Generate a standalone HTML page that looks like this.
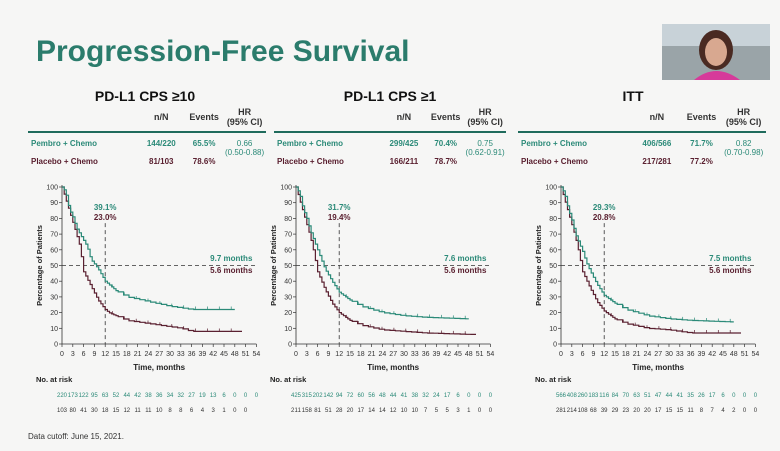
<!DOCTYPE html>
<html><head><meta charset="utf-8"><style>
body{margin:0;width:780px;height:451px;overflow:hidden;background:#f6f6f5;font-family:"Liberation Sans",sans-serif}
svg{position:absolute;left:0;top:0}
</style></head><body>
<svg id="s" width="780" height="451" xmlns="http://www.w3.org/2000/svg" font-family="Liberation Sans, sans-serif">
<rect width="780" height="451" fill="#f6f6f5"/>
<text x="36" y="61" font-size="30" font-weight="bold" fill="#2b7c6c">Progression-Free Survival</text>
<rect x="662" y="24" width="108" height="56" fill="#9aa4a8"/>
<rect x="662" y="24" width="108" height="22" fill="#c8d2d8"/>
<ellipse cx="716" cy="50" rx="17" ry="20" fill="#4a2a22"/>
<ellipse cx="716" cy="52" rx="11" ry="14" fill="#d8a890"/>
<path d="M694 80 Q716 62 740 80 Z" fill="#d63a9a"/>
</svg>
<script>
const s=document.getElementById('s');let h='';
const T='#2b8a78',P='#5a2030';
const panels=[
{x0:62,tx:28,tw:238,head:'PD-L1 CPS ≥10',hx:145,r1:['144/220','65.5%'],r2:['81/103','78.6%'],hr:['0.66','(0.50-0.88)'],
 a:['39.1%','23.0%'],m:['9.7 months','5.6 months'],
 p:[[0,100],[1,97],[2,86],[3,81],[4,74],[6,66],[7,62],[8,54],[10,48],[12,40],[15,34],[18,30],[24,27],[30,24],[33,23],[36,22],[48,22]],
 q:[[0,100],[2,85],[4,70],[5,62],[6,46],[8,37],[10,28],[12,22],[13,20],[17,16],[18,15],[27,12],[33,10],[36,8],[50,8]],
 n1:'220 173 122 95 63 52 44 42 38 36 34 32 27 19 13 6 0 0 0',n2:'103 80 41 30 18 15 12 11 11 10 8 8 6 4 3 1 0 0'},
{x0:296,tx:274,tw:232,head:'PD-L1 CPS ≥1',hx:390,r1:['299/425','70.4%'],r2:['166/211','78.7%'],hr:['0.75','(0.62-0.91)'],
 a:['31.7%','19.4%'],m:['7.6 months','5.6 months'],
 p:[[0,100],[1,96],[2,86],[3,80],[4,72],[6,60],[7,54],[8,48],[10,40],[12,33],[15,28],[18,24],[24,20],[30,18],[36,17],[48,16]],
 q:[[0,100],[2,84],[4,68],[5,58],[6,46],[8,35],[10,26],[12,20],[15,15],[18,12],[24,9],[30,8],[36,7],[50,6]],
 n1:'425 315 202 142 94 72 60 56 48 44 41 38 32 24 17 6 0 0 0',n2:'211 158 81 51 28 20 17 14 14 12 10 10 7 5 5 3 1 0 0'},
{x0:561,tx:518,tw:248,head:'ITT',hx:633,r1:['406/566','71.7%'],r2:['217/281','77.2%'],hr:['0.82','(0.70-0.98)'],
 a:['29.3%','20.8%'],m:['7.5 months','5.6 months'],
 p:[[0,100],[1,96],[2,86],[3,79],[4,70],[6,59],[7,52],[8,47],[10,38],[12,31],[15,26],[18,22],[24,18],[30,16],[36,15],[48,14]],
 q:[[0,100],[2,84],[4,68],[5,58],[6,46],[8,36],[10,27],[12,21],[15,16],[18,13],[24,10],[30,9],[36,7],[50,7]],
 n1:'566 408 260 183 116 84 70 63 51 47 44 41 35 26 17 6 0 0 0',n2:'281 214 108 68 39 29 23 20 20 17 15 15 11 8 7 4 2 0 0'}];
const Y0=344,Y1=187;
function interp(pts,m){for(let i=1;i<pts.length;i++){if(m<=pts[i][0]){const a=pts[i-1],b=pts[i];return a[1]+(b[1]-a[1])*(m-a[0])/(b[0]-a[0]);}}return pts[pts.length-1][1];}
for(const d of panels){
 const X=m=>d.x0+m*3.6,Y=v=>Y0-(Y0-Y1)*v/100;
 h+=`<text x="${d.hx}" y="101" font-size="14" font-weight="bold" text-anchor="middle" fill="#111">${d.head}</text>`;
 const c1=d.tx+d.tw*0.56,c2=d.tx+d.tw*0.74,c3=d.tx+d.tw*0.91;
 h+=`<text x="${c1}" y="120" font-size="9" font-weight="bold" text-anchor="middle" fill="#333">n/N</text><text x="${c2}" y="120" font-size="9" font-weight="bold" text-anchor="middle" fill="#333">Events</text><text x="${c3}" y="115" font-size="9" font-weight="bold" text-anchor="middle" fill="#333">HR</text><text x="${c3}" y="125" font-size="9" font-weight="bold" text-anchor="middle" fill="#333">(95% CI)</text>`;
 h+=`<rect x="${d.tx}" y="131" width="${d.tw}" height="2" fill="#1f6b5c"/>`;
 h+=`<text x="${d.tx+3}" y="146" font-size="8" fill="${T}" font-weight="bold">Pembro + Chemo</text><text x="${c1}" y="146" font-size="8" text-anchor="middle" fill="${T}" font-weight="bold">${d.r1[0]}</text><text x="${c2}" y="146" font-size="8" text-anchor="middle" fill="${T}" font-weight="bold">${d.r1[1]}</text><text x="${c3}" y="146" font-size="8" text-anchor="middle" fill="${T}">${d.hr[0]}</text><text x="${c3}" y="155" font-size="8" text-anchor="middle" fill="${T}">${d.hr[1]}</text>`;
 h+=`<text x="${d.tx+3}" y="164" font-size="8" fill="${P}" font-weight="bold">Placebo + Chemo</text><text x="${c1}" y="164" font-size="8" text-anchor="middle" fill="${P}" font-weight="bold">${d.r2[0]}</text><text x="${c2}" y="164" font-size="8" text-anchor="middle" fill="${P}" font-weight="bold">${d.r2[1]}</text>`;
 h+=`<path d="M${d.x0} ${Y1-2}V${Y0}H${X(54)}" stroke="#333" stroke-width="0.8" fill="none"/>`;
 for(let v=0;v<=100;v+=10){h+=`<line x1="${d.x0-3}" x2="${d.x0}" y1="${Y(v)}" y2="${Y(v)}" stroke="#333" stroke-width=".7"/><text x="${d.x0-4}" y="${Y(v)+2.5}" font-size="7" text-anchor="end" fill="#333">${v}</text>`;}
 for(let m=0;m<=54;m+=3){h+=`<line x1="${X(m)}" x2="${X(m)}" y1="${Y0}" y2="${Y0+3}" stroke="#333" stroke-width=".7"/><text x="${X(m)}" y="${Y0+12}" font-size="7" text-anchor="middle" fill="#333">${m}</text>`;}
 h+=`<text transform="translate(${d.x0-20} ${(Y0+Y1)/2}) rotate(-90)" font-size="7.5" font-weight="bold" text-anchor="middle" fill="#222">Percentage of Patients</text>`;
 h+=`<text x="${X(27)}" y="370" font-size="8" font-weight="bold" text-anchor="middle" fill="#222">Time, months</text>`;
 h+=`<line x1="${d.x0}" x2="${X(54)}" y1="${Y(50)}" y2="${Y(50)}" stroke="#333" stroke-dasharray="4 3" stroke-width=".8"/><line x1="${X(12)}" x2="${X(12)}" y1="${Y(77)}" y2="${Y0}" stroke="#333" stroke-dasharray="4 3" stroke-width=".8"/>`;
 h+=`<text x="${X(12)}" y="210" font-size="8" font-weight="bold" text-anchor="middle" fill="${T}">${d.a[0]}</text><text x="${X(12)}" y="220" font-size="8" font-weight="bold" text-anchor="middle" fill="${P}">${d.a[1]}</text>`;
 h+=`<text x="${X(54)-4}" y="261" font-size="8" font-weight="bold" text-anchor="end" fill="${T}">${d.m[0]}</text><text x="${X(54)-4}" y="273" font-size="8" font-weight="bold" text-anchor="end" fill="${P}">${d.m[1]}</text>`;
 const st=(pts,c)=>{const end=pts[pts.length-1][0];let p=`M${X(0)} ${Y(100)}`;let prev=100;
  for(let m=0.6;m<=end;m+=(m<15?0.6:1.5)){let v=interp(pts,m);v=Math.min(prev,v);p+=`H${X(m).toFixed(1)}V${Y(v).toFixed(1)}`;prev=v;}
  p+=`H${X(end)}`;
  let ticks='';for(let m=14;m<end;m+=3.3){const v=interp(pts,m);ticks+=`M${X(m).toFixed(1)} ${Y(v)}v-3`;}
  return `<path d="${p}" stroke="${c}" stroke-width="1.2" fill="none"/><path d="${ticks}" stroke="${c}" stroke-width=".7"/>`;};
 h+=st(d.q,P)+st(d.p,T);
 h+=`<text x="${d.x0-26}" y="382" font-size="7.5" font-weight="bold" fill="#222">No. at risk</text>`;
 const w1=d.n1.split(' '),w2=d.n2.split(' ');
 w1.forEach((t,i)=>h+=`<text x="${X(i*3)}" y="397" font-size="6" text-anchor="middle" fill="${T}" textLength="${t.length>2?10:''}">${t}</text>`.replace(' textLength=""',''));
 w2.forEach((t,i)=>h+=`<text x="${X(i*3)}" y="412" font-size="6" text-anchor="middle" fill="#333" textLength="${t.length>2?10:''}">${t}</text>`.replace(' textLength=""',''));
}
h+=`<text x="28" y="439" font-size="8" fill="#333">Data cutoff: June 15, 2021.</text>`;
s.insertAdjacentHTML('beforeend',h);
</script>
</body></html>
